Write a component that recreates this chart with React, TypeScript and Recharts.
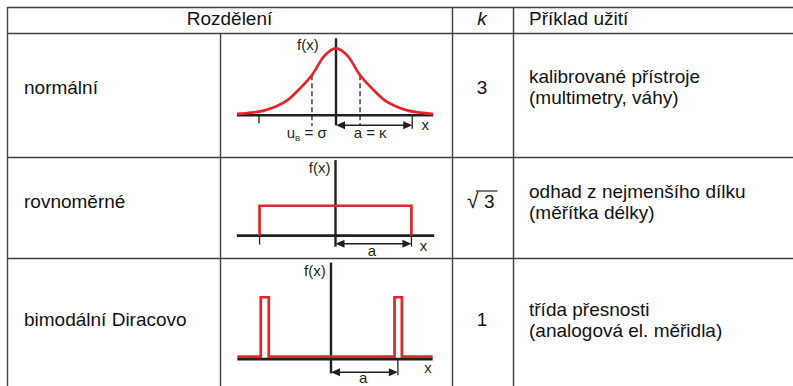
import React from 'react';
import { ComposedChart, Line, XAxis, YAxis, ReferenceLine, ReferenceDot } from 'recharts';

const RED = '#e3242b';
const INK = '#231f20';
const RULE = '#3f3f3f';
const FONT = '"Liberation Sans", Arial, Helvetica, sans-serif';

// normální: x in units of sigma, y relative to the peak
const normalX = [-4.12, -3.5, -3, -2.5, -2, -1.5, -1, -0.5, 0, 0.5, 1, 1.5, 2, 2.5, 3, 3.5, 4.04];
const normalY = [0.02, 0.04, 0.07, 0.13, 0.23, 0.4, 0.6, 0.88, 1, 0.88, 0.6, 0.4, 0.23, 0.13, 0.07, 0.04, 0.02];

// rovnoměrné: x in units of a
const uniformX = [-1, -1, 1, 1];
const uniformY = [0, 1, 1, 0];

// bimodální Diracovo: x in units of a
const diracX = [-1.4, -1.05, -1.05, -0.93, -0.93, 0.95, 0.95, 1.06, 1.06, 1.52];
const diracY = [0.04, 0.04, 1, 1, 0.04, 0.04, 1, 1, 0.04, 0.04];

const rowNames = ['normální', 'rovnoměrné', 'bimodální Diracovo'];
const kValues = ['3', '√3', '1'];
const examples = [
  ['kalibrované přístroje', '(multimetry, váhy)'],
  ['odhad z nejmenšího dílku', '(měřítka délky)'],
  ['třída přesnosti', '(analogová el. měřidla)'],
];

const toRows = (xs: number[], ys: number[]) => xs.map((x, i) => ({ x, y: ys[i] }));

const Arrow = (p: any) => {
  const x1 = Math.min(p.x1, p.x2), x2 = Math.max(p.x1, p.x2), y = p.y1;
  const h = 9, w = 4;
  return (
    <g>
      <line x1={x1 + h - 1} y1={y} x2={x2 - h + 1} y2={y} stroke={INK} strokeWidth={1.5} />
      <polygon points={`${x1},${y} ${x1 + h},${y - w} ${x1 + h},${y + w}`} fill={INK} />
      <polygon points={`${x2},${y} ${x2 - h},${y - w} ${x2 - h},${y + w}`} fill={INK} />
    </g>
  );
};

const label = (content: React.ReactNode) => (p: any) => (
  <text x={p.cx} y={p.cy} textAnchor="middle" fontFamily={FONT} fontSize={15} fill={INK}>{content}</text>
);

type Seg = { x1: number; y1: number; x2: number; y2: number };
type Lab = { x: number; y: number; text: React.ReactNode };

interface PlotProps {
  left: number; top: number; width: number; height: number;
  xDomain: [number, number]; yDomain: [number, number];
  data: { x: number; y: number }[]; curve: 'monotone' | 'linear';
  hAxis: [number, number]; vAxis: [number, number];
  ticks: Seg[]; dashes: Seg[]; arrow: Seg; labels: Lab[];
}

function Plot(props: PlotProps) {
  const { left, top, width, height, xDomain, yDomain, data, curve, hAxis, vAxis, ticks, dashes, arrow, labels } = props;
  return (
    <div style={{ position: 'absolute', left, top, width, height }}>
      <ComposedChart width={width} height={height} data={data} margin={{ top: 0, right: 0, bottom: 0, left: 0 }} style={{ overflow: 'visible' }}>
        <XAxis type="number" dataKey="x" domain={xDomain} hide allowDataOverflow />
        <YAxis type="number" domain={yDomain} hide allowDataOverflow />
        <ReferenceLine segment={[{ x: hAxis[0], y: 0 }, { x: hAxis[1], y: 0 }]} stroke={INK} strokeWidth={2.6} />
        <ReferenceLine segment={[{ x: 0, y: vAxis[0] }, { x: 0, y: vAxis[1] }]} stroke={INK} strokeWidth={2.4} />
        {ticks.map((t, i) => (
          <ReferenceLine key={'t' + i} segment={[{ x: t.x1, y: t.y1 }, { x: t.x2, y: t.y2 }]} stroke={INK} strokeWidth={1.3} />
        ))}
        {dashes.map((d, i) => (
          <ReferenceLine key={'d' + i} segment={[{ x: d.x1, y: d.y1 }, { x: d.x2, y: d.y2 }]} stroke={INK} strokeWidth={1.3} strokeDasharray="5 3" />
        ))}
        <ReferenceLine segment={[{ x: arrow.x1, y: arrow.y1 }, { x: arrow.x2, y: arrow.y2 }]} shape={Arrow} />
        <Line type={curve} dataKey="y" stroke={RED} strokeWidth={2.7} dot={false} activeDot={false} isAnimationActive={false} />
        {labels.map((l, i) => (
          <ReferenceDot key={'l' + i} x={l.x} y={l.y} shape={label(l.text)} />
        ))}
      </ComposedChart>
    </div>
  );
}

export default function App() {
  const rowBase = [94, 208, 326];
  const exBase = [[83, 104], [198, 219], [316, 337]];
  const txt = { fontFamily: FONT, fontSize: 19, fill: '#111' };
  return (
    <div style={{ position: 'absolute', left: 0, top: 0, width: 793, height: 386, overflow: 'hidden', background: '#fff' }}>
      <svg width={793} height={386} style={{ position: 'absolute', left: 0, top: 0 }}>
        <g stroke={RULE} strokeWidth={1.4}>
          <line x1={7} y1={7.5} x2={793} y2={7.5} />
          <line x1={7.5} y1={7} x2={7.5} y2={386} />
          <line x1={7} y1={33.5} x2={793} y2={33.5} />
          <line x1={7} y1={157.5} x2={793} y2={157.5} />
          <line x1={7} y1={258.5} x2={793} y2={258.5} />
          <line x1={220.5} y1={33.5} x2={220.5} y2={386} />
          <line x1={452.5} y1={7} x2={452.5} y2={386} />
          <line x1={513.5} y1={7} x2={513.5} y2={386} />
        </g>
        <text x={229.5} y={25} textAnchor="middle" {...txt}>Rozdělení</text>
        <text x={482} y={25} textAnchor="middle" fontStyle="italic" {...txt}>k</text>
        <text x={529} y={25} {...txt}>Příklad užití</text>
        {rowNames.map((n, i) => (
          <text key={n} x={24} y={rowBase[i]} {...txt}>{n}</text>
        ))}
        {kValues.map((k, i) =>
          k.startsWith('√') ? (
            <g key={k}>
              <text x={467} y={rowBase[i]} {...txt} fontSize={21}>√<tspan x={484} fontSize={19}>{k.slice(1)}</tspan></text>
              <line x1={476} y1={191} x2={497.5} y2={191} stroke="#111" strokeWidth={1.1} />
            </g>
          ) : (
            <text key={k} x={482} y={rowBase[i]} textAnchor="middle" {...txt}>{k}</text>
          )
        )}
        {examples.map((ex, i) =>
          ex.map((line, j) => (
            <text key={line} x={529} y={exBase[i][j]} {...txt}>{line}</text>
          ))
        )}
      </svg>

      <Plot
        left={235} top={35} width={202} height={107}
        xDomain={[-4.2, 4.2]} yDomain={[-0.4, 1.2]}
        data={toRows(normalX, normalY)} curve="monotone"
        hAxis={[-4.12, 4.04]} vAxis={[-0.15, 1.15]}
        ticks={[{ x1: -3.2, y1: 0, x2: -3.2, y2: -0.12 }, { x1: 3.17, y1: 0, x2: 3.17, y2: -0.2 }]}
        dashes={[{ x1: -1, y1: 0.6, x2: -1, y2: -0.16 }, { x1: 1, y1: 0.6, x2: 1, y2: -0.16 }]}
        arrow={{ x1: 0, y1: -0.15, x2: 3.17, y2: -0.15 }}
        labels={[
          { x: -1.17, y: 0.97, text: 'f(x)' },
          { x: -1.22, y: -0.34, text: <>u<tspan fontSize={8} dy={3}>B</tspan><tspan dy={-3}> = σ</tspan></> },
          { x: 1.42, y: -0.34, text: 'a = κ' },
          { x: 3.71, y: -0.22, text: 'x' },
        ]}
      />

      <Plot
        left={233} top={155} width={205} height={103}
        xDomain={[-1.35, 1.35]} yDomain={[-0.75, 2.7]}
        data={toRows(uniformX, uniformY)} curve="linear"
        hAxis={[-1.3, 1.3]} vAxis={[-0.37, 2.53]}
        ticks={[{ x1: -1, y1: 0, x2: -1, y2: -0.3 }, { x1: 1, y1: 0, x2: 1, y2: -0.37 }]}
        dashes={[]}
        arrow={{ x1: 0, y1: -0.27, x2: 1, y2: -0.27 }}
        labels={[
          { x: -0.21, y: 2.1, text: 'f(x)' },
          { x: 0.48, y: -0.67, text: 'a' },
          { x: 1.16, y: -0.5, text: 'x' },
        ]}
      />

      <Plot
        left={234} top={257} width={204} height={130}
        xDomain={[-1.45, 1.6]} yDomain={[-0.45, 1.65]}
        data={toRows(diracX, diracY)} curve="linear"
        hAxis={[-1.4, 1.52]} vAxis={[-0.23, 1.56]}
        ticks={[{ x1: 1, y1: 0, x2: 1, y2: -0.26 }]}
        dashes={[]}
        arrow={{ x1: 0, y1: -0.21, x2: 1, y2: -0.21 }}
        labels={[
          { x: -0.24, y: 1.35, text: 'f(x)' },
          { x: 0.48, y: -0.39, text: 'a' },
          { x: 1.45, y: -0.23, text: 'x' },
        ]}
      />
    </div>
  );
}
